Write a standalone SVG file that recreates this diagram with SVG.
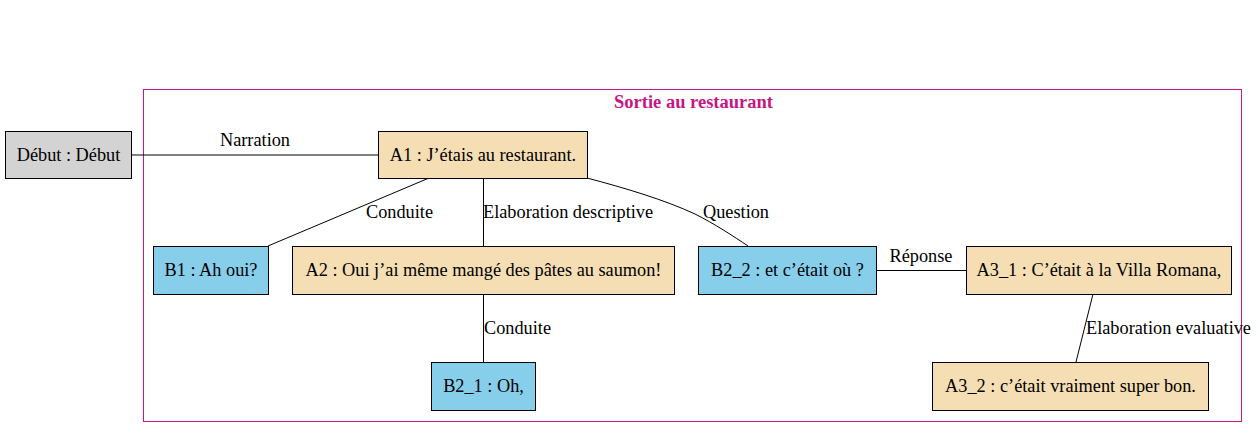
<svg xmlns="http://www.w3.org/2000/svg" width="1259" height="437" viewBox="0 0 1259 437">
<defs>
<style>
.n rect{stroke:#000;stroke-width:1}
.grey rect{fill:#d3d3d3}
.wheat rect{fill:#f5deb3}
.sky rect{fill:#87ceeb}
.e{stroke:#000;stroke-width:1;fill:none}
</style>
</defs>
<rect width="1259" height="437" fill="#ffffff"/>
<g font-family="'Liberation Serif', 'Times New Roman', Times, serif" font-size="18.3" fill="#000000">
<g id="cluster">
<rect x="143.5" y="89.5" width="1098" height="332" fill="none" stroke="#c71585" stroke-width="1"/>
<text x="693.5" y="108" fill="#c71585" font-weight="bold" font-size="18.5" text-anchor="middle">Sortie au restaurant</text>
</g>
<g id="connectors">
<path class="e" d="M131,155 L378,155"/>
<text x="255" y="146" text-anchor="middle">Narration</text>
<path class="e" d="M429,178 L268,246"/>
<text x="366" y="218">Conduite</text>
<path class="e" d="M483.5,178 L483.5,246"/>
<text x="483" y="218">Elaboration descriptive</text>
<path class="e" d="M587,178 C625,188 665,200 695,214 C715,224 733,236 748,246"/>
<text x="703" y="218">Question</text>
<path class="e" d="M483.5,294 L483.5,362"/>
<text x="484" y="334">Conduite</text>
<path class="e" d="M876,270.5 L966,270.5"/>
<text x="921" y="262" text-anchor="middle">Réponse</text>
<path class="e" d="M1093,294 L1076,362"/>
<text x="1086" y="334">Elaboration evaluative</text>
</g>
<g id="debut" class="n grey" text-anchor="middle"><rect x="5.5" y="131.5" width="126" height="47"/><text x="68.5" y="161">Début : Début</text></g>
<g id="A1" class="n wheat" text-anchor="middle"><rect x="378.5" y="131.5" width="209" height="47"/><text x="483" y="161">A1 : J’étais au restaurant.</text></g>
<g id="B1" class="n sky" text-anchor="middle"><rect x="153.5" y="246.5" width="115" height="48"/><text x="211" y="276">B1 : Ah oui?</text></g>
<g id="A2" class="n wheat" text-anchor="middle"><rect x="292.5" y="246.5" width="382" height="48"/><text x="483.5" y="276">A2 : Oui j’ai même mangé des pâtes au saumon!</text></g>
<g id="B2_2" class="n sky" text-anchor="middle"><rect x="698.5" y="246.5" width="178" height="48"/><text x="787.5" y="276">B2_2 : et c’était où ?</text></g>
<g id="A3_1" class="n wheat" text-anchor="middle"><rect x="966.5" y="246.5" width="265" height="48"/><text x="1099" y="276">A3_1 : C’était à la Villa Romana,</text></g>
<g id="B2_1" class="n sky" text-anchor="middle"><rect x="431.5" y="362.5" width="104" height="48"/><text x="483.5" y="392">B2_1 : Oh,</text></g>
<g id="A3_2" class="n wheat" text-anchor="middle"><rect x="932.5" y="362.5" width="276" height="48"/><text x="1070.5" y="392">A3_2 : c’était vraiment super bon.</text></g>
</g>
</svg>
